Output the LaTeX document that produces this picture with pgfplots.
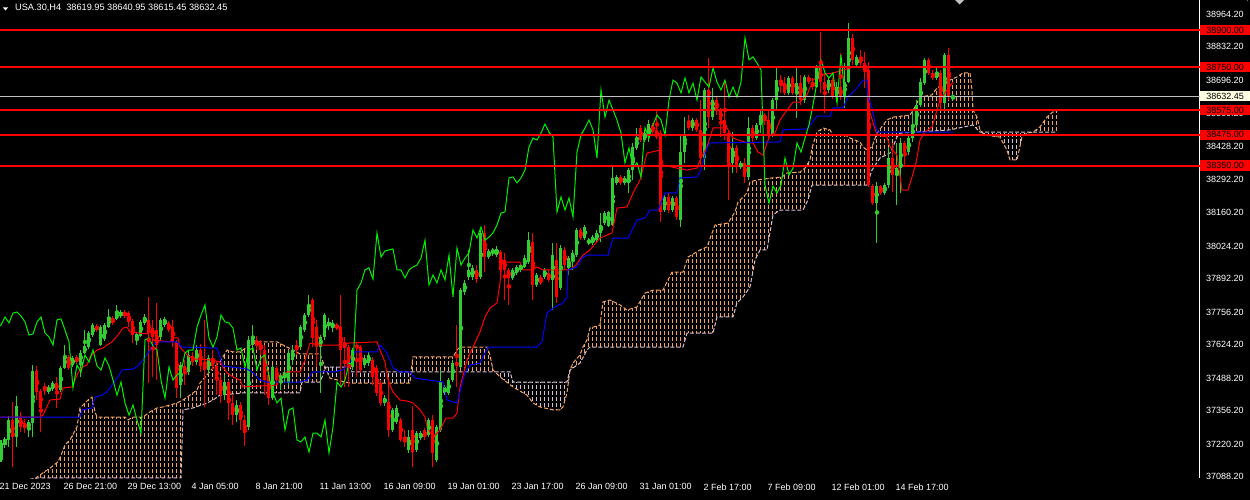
\documentclass[border=0pt]{standalone}
\usepackage{fontspec}
\setmainfont{Liberation Sans}
\usepackage{pgfplots}
\pgfplotsset{compat=1.18}
\usepackage{pgfplotstable}
\usepgfplotslibrary{fillbetween}

\definecolor{bull}{RGB}{50,205,50}
\definecolor{bear}{RGB}{255,0,0}
\definecolor{chikou}{RGB}{0,240,0}
\definecolor{sandy}{RGB}{244,164,96}
\definecolor{thist}{RGB}{216,191,216}
\definecolor{silv}{RGB}{192,192,192}
\definecolor{cream}{RGB}{255,255,225}
\newcommand{\tkfont}{\fontsize{9}{10}\selectfont}

% H4 bars: index, open, high, low, close
\pgfplotstableread{
i o h l c
0 37156 37237 37148 37225
1 37217 37249 37204 37241
2 37237 37334 37209 37318
3 37318 37391 37127 37249
4 37249 37415 37209 37375
5 37326 37351 37269 37290
6 37306 37322 37265 37286
7 37286 37318 37249 37310
8 37306 37541 37249 37517
9 37517 37537 37399 37432
10 37436 37444 37269 37367
11 37456 37468 37419 37440
12 37432 37460 37424 37452
13 37444 37476 37436 37468
14 37468 37493 37367 37440
15 37440 37537 37432 37529
16 37529 37622 37525 37578
17 37574 37582 37521 37529
18 37541 37578 37533 37570
19 37574 37582 37545 37553
20 37553 37602 37493 37590
21 37590 37683 37586 37618
22 37614 37679 37606 37671
23 37663 37712 37655 37703
24 37699 37708 37675 37683
25 37622 37703 37618 37695
26 37647 37712 37639 37703
27 37695 37768 37691 37736
28 37732 37740 37703 37712
29 37728 37785 37724 37752
30 37740 37764 37732 37756
31 37756 37764 37732 37740
32 37752 37760 37695 37716
33 37720 37728 37630 37663
34 37647 37671 37622 37667
35 37659 37724 37655 37716
36 37712 37748 37703 37736
37 37724 37817 37468 37671
38 37691 37724 37493 37655
39 37683 37793 37480 37622
40 37655 37732 37643 37724
41 37703 37736 37695 37728
42 37712 37720 37675 37683
43 37695 37724 37614 37635
44 37635 37643 37407 37448
45 37460 37553 37407 37541
46 37537 37561 37460 37513
47 37513 37602 37501 37582
48 37578 37594 37537 37553
49 37553 37622 37541 37602
50 37602 37626 37513 37537
51 37545 37724 37371 37521
52 37521 37582 37505 37570
53 37570 37602 37521 37537
54 37537 37553 37419 37480
55 37480 37501 37387 37419
56 37419 37501 37399 37472
57 37472 37480 37318 37387
58 37387 37419 37298 37338
59 37338 37399 37310 37379
60 37379 37391 37277 37318
61 37318 37338 37213 37265
62 37290 37659 37277 37643
63 37622 37703 37602 37651
64 37643 37659 37602 37618
65 37630 37643 37582 37602
66 37602 37622 37419 37480
67 37501 37521 37379 37407
68 37407 37541 37399 37533
69 37529 37537 37460 37480
70 37480 37509 37440 37501
71 37488 37521 37472 37513
72 37468 37602 37460 37590
73 37561 37622 37541 37602
74 37622 37643 37582 37602
75 37614 37703 37602 37695
76 37683 37752 37675 37744
77 37744 37825 37736 37785
78 37805 37813 37614 37651
79 37695 37724 37533 37614
80 37614 37663 37428 37655
81 37655 37752 37643 37744
82 37699 37732 37683 37716
83 37691 37724 37675 37712
84 37703 37712 37683 37691
85 37695 37825 37452 37602
86 37635 37655 37452 37610
87 37614 37622 37452 37533
88 37533 37610 37521 37602
89 37622 37630 37493 37610
90 37614 37622 37509 37521
91 37541 37582 37529 37570
92 37549 37594 37537 37582
93 37561 37574 37460 37493
94 37529 37541 37415 37428
95 37468 37480 37375 37387
96 37387 37419 37375 37407
97 37391 37493 37249 37277
98 37277 37367 37269 37359
99 37310 37379 37302 37367
100 37318 37326 37229 37237
101 37241 37277 37209 37229
102 37196 37277 37184 37249
103 37277 37375 37127 37188
104 37196 37273 37188 37265
105 37245 37273 37237 37265
106 37277 37286 37237 37249
107 37257 37326 37249 37318
108 37318 37338 37127 37184
109 37156 37298 37148 37290
110 37277 37521 37269 37472
111 37428 37460 37419 37452
112 37428 37488 37419 37480
113 37480 37561 37472 37549
114 37549 37703 37452 37541
115 37533 37854 37529 37845
116 37837 37886 37825 37874
117 37898 38008 37886 37927
118 37898 37947 37886 37935
119 37927 37947 37874 37890
120 37898 38089 37890 38077
121 38077 38109 37918 37979
122 37979 38012 37971 38004
123 37996 38016 37983 38008
124 37987 38024 37979 38012
125 38000 38008 37906 37927
126 37967 37996 37805 37927
127 37927 37935 37785 37894
128 37894 37935 37886 37927
129 37914 37947 37906 37939
130 37927 37955 37918 37947
131 37939 37987 37935 37975
132 37959 38081 37951 38048
133 38040 38077 37805 37866
134 37866 37914 37858 37906
135 37898 37906 37866 37874
136 37898 37935 37890 37927
137 37914 37927 37878 37886
138 37886 38036 37764 37987
139 37967 38036 37793 37817
140 37854 38028 37845 38016
141 38008 38020 37927 37947
142 37935 37983 37906 37975
143 37967 38008 37927 37996
144 37987 38097 37979 38089
145 38089 38097 38048 38056
146 38056 38109 38048 38101
147 38036 38056 38028 38048
148 38036 38069 38028 38060
149 38048 38089 38040 38077
150 38077 38158 38040 38109
151 38117 38166 38109 38158
152 38105 38166 38101 38162
153 38109 38344 38105 38300
154 38280 38312 38271 38304
155 38304 38312 38271 38280
156 38280 38308 38271 38300
157 38280 38340 38239 38332
158 38332 38442 38292 38426
159 38422 38503 38413 38462
160 38503 38515 38446 38454
161 38454 38495 38446 38482
162 38474 38535 38446 38519
163 38515 38523 38478 38486
164 38495 38576 38458 38466
165 38482 38495 38121 38162
166 38170 38231 38162 38223
167 38223 38239 38158 38170
168 38170 38227 38162 38219
169 38219 38227 38129 38142
170 38129 38474 38101 38405
171 38405 38547 38361 38474
172 38527 38555 38495 38503
173 38503 38543 38491 38535
174 38535 38543 38486 38495
175 38495 38616 38344 38381
176 38381 38665 38332 38657
177 38657 38787 38503 38547
178 38547 38665 38535 38616
179 38616 38628 38555 38576
180 38576 38584 38466 38535
181 38535 38697 38454 38482
182 38482 38495 38211 38361
183 38361 38486 38320 38422
184 38422 38434 38320 38344
185 38344 38369 38336 38361
186 38361 38381 38280 38304
187 38304 38547 38292 38503
188 38503 38515 38446 38462
189 38462 38523 38454 38515
190 38515 38576 38482 38555
191 38555 38564 38515 38535
192 38535 38576 38454 38474
193 38474 38624 38466 38616
194 38616 38750 38576 38697
195 38697 38718 38645 38685
196 38685 38710 38637 38645
197 38645 38714 38637 38706
198 38706 38714 38637 38645
199 38645 38750 38543 38685
200 38685 38718 38596 38616
201 38616 38718 38604 38710
202 38710 38718 38681 38689
203 38689 38706 38657 38669
204 38669 38758 38665 38746
205 38746 38892 38645 38689
206 38689 38726 38564 38657
207 38657 38706 38645 38697
208 38697 38706 38620 38628
209 38628 38689 38608 38669
210 38669 38807 38616 38628
211 38628 38766 38584 38689
212 38689 38929 38685 38868
213 38868 38884 38758 38779
214 38758 38799 38746 38791
215 38791 38819 38750 38766
216 38766 38811 38665 38738
217 38738 38770 38263 38271
218 38267 38276 38190 38198
219 38198 38284 38036 38267
220 38267 38271 38231 38239
221 38239 38280 38231 38271
222 38271 38426 38259 38381
223 38381 38442 38243 38312
224 38312 38442 38190 38340
225 38340 38462 38239 38442
226 38442 38450 38344 38405
227 38405 38474 38393 38462
228 38462 38576 38446 38515
229 38515 38616 38503 38596
230 38596 38706 38588 38689
231 38685 38787 38677 38779
232 38779 38787 38718 38726
233 38726 38738 38697 38706
234 38706 38750 38697 38726
235 38726 38738 38576 38604
236 38604 38807 38568 38799
237 38799 38827 38616 38628
238 38619.95 38640.95 38615.45 38632.45
}\candles

\pgfplotstableread{
x y
-0.25 37330
9.75 37330
10.5 37338
12.25 37399
14.75 37403
15.5 37448
17.75 37452
19.25 37509
20.25 37533
21.5 37541
22.25 37574
24 37602
25.5 37610
26.5 37622
27.75 37635
29.25 37663
30.5 37691
31.5 37695
32.25 37675
36.5 37667
37.25 37683
38 37643
42.25 37635
43 37651
44.25 37651
44.75 37614
46.5 37582
48 37566
53 37561
54.75 37553
56.5 37509
58 37493
59.75 37480
60.5 37452
69 37460
69.75 37493
71.5 37513
74.75 37513
76 37561
77.25 37630
79.75 37622
85.5 37622
86.5 37630
94 37635
94.75 37602
96 37553
96.75 37480
98 37432
99.75 37399
101.5 37395
103 37387
104.75 37359
106 37330
106.5 37290
108 37249
109.75 37277
111.25 37326
113 37326
114 37346
114.75 37452
116.5 37561
118 37614
119.75 37675
121 37736
122.25 37772
124 37793
124.75 37874
125.25 37959
129.75 37959
130.5 37927
133 37927
134 37939
135.5 37927
142.25 37927
143.75 37947
145.5 37987
147.25 38008
149.75 38056
152.75 38077
154 38178
156.5 38182
158 38239
159.75 38292
161.5 38401
164.75 38413
165.5 38353
169 38340
171.5 38332
174 38340
174.75 38373
176.5 38426
178 38503
181.5 38503
183 38462
186.5 38442
188 38442
189.25 38405
190.5 38393
191.5 38442
192.25 38474
193.5 38482
194.75 38535
196.5 38576
198 38608
199.75 38608
201.5 38637
203 38697
204.75 38718
208 38726
211.5 38742
213 38750
216.5 38750
217.25 38564
219 38474
221.5 38466
222.25 38426
224 38393
225.25 38251
226.75 38251
227.75 38304
228.75 38361
229.75 38454
231 38486
232.75 38507
233.5 38547
234.75 38616
236.5 38657
238 38689
}\tenkan

\pgfplotstableread{
x y
-0.25 37330
19.75 37330
20.25 37359
22.75 37367
23.5 37411
25.25 37419
26.5 37432
27.75 37460
29.25 37493
30.25 37521
33 37525
34.25 37537
35.5 37561
36.75 37590
38 37622
39 37635
44 37635
45.25 37614
54 37610
54.75 37574
55.5 37537
61.5 37525
63 37509
64.75 37480
66.5 37472
74.75 37472
76.5 37480
78 37513
83 37513
85.5 37521
87.25 37549
88.5 37594
94 37594
94.75 37622
96.5 37590
98 37529
99.75 37513
102.25 37513
103.5 37488
110.5 37472
111.5 37399
114 37387
114.75 37432
116 37509
117.25 37541
119.75 37549
121 37590
121.75 37614
134 37614
135.25 37635
136.5 37752
138 37772
140.5 37793
141.5 37817
141.75 37927
144 37939
145.25 37975
146.5 37987
151.75 37987
153 38056
156.75 38056
159 38129
161 38138
162.25 38170
164.25 38170
166 38239
169 38239
169.75 38300
174 38304
174.75 38324
176.5 38422
177.25 38442
194.75 38446
195.5 38495
201.5 38499
204 38551
207.25 38551
208 38584
210.5 38584
211.75 38628
214 38665
215.5 38697
216.5 38697
216.75 38628
217.75 38584
219 38486
238 38486
}\kijun

\pgfplotstableread{
x y
-0.25 36993
7.25 37054
9 37087
12.25 37123
14.25 37148
15.25 37184
16 37217
17.25 37237
19 37290
19.75 37367
21.75 37399
22.75 37411
23.5 37351
24 37330
31 37330
31.75 37318
33 37330
35.5 37330
37.25 37351
39 37367
40.5 37371
42.25 37379
44 37387
45.5 37399
47.25 37419
49 37440
49.75 37468
51.5 37501
53 37529
54.75 37553
56.5 37602
58 37594
59.75 37594
61.5 37614
64 37635
69 37635
71.5 37614
73 37602
74.75 37586
79.75 37586
80.5 37553
81 37533
82.25 37488
86 37472
87.25 37468
102.25 37468
102.5 37513
103 37574
113 37574
114 37602
114.75 37614
121.5 37614
122.25 37582
123 37521
123.5 37513
124.75 37493
128 37452
131.5 37419
133 37387
134.75 37371
138 37359
139.75 37359
140.5 37371
141.5 37428
142.25 37521
143 37549
144.75 37582
145.5 37614
146.5 37643
147.25 37691
149.75 37703
150.5 37797
152.25 37805
154.75 37785
156.5 37764
159 37777
161 37833
163 37845
165.5 37845
166.75 37886
167.75 37918
170.5 37918
171.75 37979
174.75 38008
176.5 38020
178.5 38109
181.75 38117
183.5 38162
184.25 38202
186.5 38239
187.25 38284
189 38292
192.75 38300
195.25 38304
196.5 38320
199.75 38324
201 38340
202.25 38373
202.75 38422
204 38486
205.5 38503
207.25 38495
208 38474
211 38474
212.25 38462
214.75 38446
215.5 38426
216.5 38413
217.75 38426
219 38482
221.5 38535
223 38547
227.25 38555
228.5 38588
229.75 38628
232.75 38637
234 38665
237.25 38697
239 38710
240.5 38726
242.25 38726
242.75 38657
243 38576
244 38547
244.75 38495
245.25 38486
246 38474
249.75 38466
251.5 38413
252.25 38373
254 38373
255.25 38466
256.5 38482
258 38486
259.75 38507
261.5 38547
263 38568
264 38572
}\spanA

\pgfplotstableread{
x y
-0.25 37054
9 37083
45 37083
45.5 37359
48 37367
51.5 37387
53 37399
54.75 37419
60.5 37428
74.75 37428
75.25 37472
79.75 37472
80.5 37501
81 37533
87.25 37533
87.75 37513
102.5 37513
123.5 37513
127.25 37513
128 37472
141.5 37472
142.25 37521
144.75 37549
146.5 37602
147.25 37614
170.5 37614
171.5 37671
178 37671
179 37736
183 37736
184 37793
185.5 37817
187.25 37858
188.5 37967
189.75 38008
191.5 38008
193 38150
194.75 38170
200.5 38170
201.75 38211
202.75 38271
216.5 38271
217.75 38332
219.75 38381
222.25 38401
223 38426
224 38466
224.75 38482
237.25 38495
243 38515
244.75 38486
245.25 38486
258 38486
264 38486
}\spanB

\begin{document}
\begin{tikzpicture}
% black margins round the plot box (the box itself gets a black axis background)
\fill[black] (1199.5pt,0pt) rectangle (1250pt,500pt);
\fill[black] (0pt,0pt) rectangle (1250pt,21.5pt);
\begin{axis}[
  at={(0pt,500pt)}, anchor=north west,
  width=1200pt, height=479pt, scale only axis,
  axis background/.style={fill=black},
  xmin=-0.25, xmax=299.75, ymin=37078.7, ymax=39022,
  axis x line=bottom, axis y line=right,
  axis line style={white, -, line width=1pt},
  tick style={white, line width=1pt}, tick align=outside, major tick length=3.5pt,
  xtick={0,16,...,224},
  xticklabels={21 Dec 2023, 26 Dec 21:00, 29 Dec 13:00, 4 Jan 05:00, 8 Jan 21:00, 11 Jan 13:00, 16 Jan 09:00, 19 Jan 01:00, 23 Jan 17:00, 26 Jan 09:00, 31 Jan 01:00, 2 Feb 17:00, 7 Feb 09:00, 12 Feb 01:00, 14 Feb 17:00},
  ytick={37088.2,37220.2,37356.2,37488.2,37624.2,37756.2,37892.2,38024.2,38160.2,38292.2,38428.2,38560.2,38696.2,38832.2,38964.2},
  yticklabels={37088.20,37220.20,37356.20,37488.20,37624.20,37756.20,37892.20,38024.20,38160.20,38292.20,38428.20,38560.20,38696.20,38832.20,38964.20},
  ticklabel style={text=white, font=\tkfont},
  xticklabel style={anchor=north west, inner sep=0pt, xshift=-1.5pt, yshift=-1pt},
  yticklabel style={anchor=west, inner sep=0pt, xshift=2.5pt},
]
% Ichimoku cloud (Senkou spans, shifted 26 bars forward)
\addplot[draw=none, forget plot, name path=A] table[x=x, y=y] {\spanA};
\addplot[draw=none, forget plot, name path=B] table[x=x, y=y] {\spanB};
\addplot[draw=none, fill=sandy] fill between[of=A and B, soft clip={(-1,36900) rectangle (81,39100)}];
\addplot[draw=none, fill=thist] fill between[of=A and B, soft clip={(81,36900) rectangle (102.5,39100)}];
\addplot[draw=none, fill=sandy] fill between[of=A and B, soft clip={(102.5,36900) rectangle (123.5,39100)}];
\addplot[draw=none, fill=thist] fill between[of=A and B, soft clip={(123.5,36900) rectangle (142.25,39100)}];
\addplot[draw=none, fill=sandy] fill between[of=A and B, soft clip={(142.25,36900) rectangle (245.25,39100)}];
\addplot[draw=none, fill=thist] fill between[of=A and B, soft clip={(245.25,36900) rectangle (258,39100)}];
\addplot[draw=none, fill=sandy] fill between[of=A and B, soft clip={(258,36900) rectangle (265,39100)}];
% cut the filled cloud into the dotted per-bar histogram of MT4
\pgfplotsinvokeforeach{-1,...,265}{
  \draw[black, line width=3pt] (axis cs:#1.5,36900) -- (axis cs:#1.5,39100);
  \draw[black, line width=1.4pt, dash pattern=on 2pt off 4pt] (axis cs:#1,36900) -- (axis cs:#1,39100);
}
\addplot[sandy, line width=1pt, dash pattern=on 4pt off 2pt] table[x=x, y=y] {\spanA};
\addplot[thist, line width=1pt, dash pattern=on 4pt off 2pt] table[x=x, y=y] {\spanB};
% candles: wicks and bodies
\addplot[only marks, mark=none, bull, error bars/.cd, y dir=both, y explicit, error mark=none, error bar style={line width=1pt, bull}]
  table[x=i, y expr={\thisrow{c}>=\thisrow{o} ? (\thisrow{h}+\thisrow{l})/2 : nan}, y error expr={(\thisrow{h}-\thisrow{l})/2}] {\candles};
\addplot[only marks, mark=none, bear, error bars/.cd, y dir=both, y explicit, error mark=none, error bar style={line width=1pt, bear}]
  table[x=i, y expr={\thisrow{c}<\thisrow{o} ? (\thisrow{h}+\thisrow{l})/2 : nan}, y error expr={(\thisrow{h}-\thisrow{l})/2}] {\candles};
\addplot[only marks, mark=none, bull, error bars/.cd, y dir=both, y explicit, error mark=none, error bar style={line width=3pt, bull}]
  table[x=i, y expr={\thisrow{c}>=\thisrow{o} ? (\thisrow{o}+\thisrow{c})/2 : nan}, y error expr={max(abs(\thisrow{c}-\thisrow{o})/2,2)}] {\candles};
\addplot[only marks, mark=none, bear, error bars/.cd, y dir=both, y explicit, error mark=none, error bar style={line width=3pt, bear}]
  table[x=i, y expr={\thisrow{c}<\thisrow{o} ? (\thisrow{o}+\thisrow{c})/2 : nan}, y error expr={max(abs(\thisrow{c}-\thisrow{o})/2,2)}] {\candles};
% Tenkan, Kijun, Chikou
\addplot[bear, line width=1pt] table[x=x, y=y] {\tenkan};
\addplot[blue, line width=1pt] table[x=x, y=y] {\kijun};
\addplot[chikou, line width=1pt] table[x expr=\thisrow{i}-26, y=c] {\candles};
% levels and bid line
\addplot[silv, line width=0.8pt] coordinates {(-1,38632.45) (301,38632.45)};
\addplot[bear, line width=2pt] coordinates {(-1,38900) (301,38900)};
\addplot[bear, line width=2pt] coordinates {(-1,38750) (301,38750)};
\addplot[bear, line width=2pt] coordinates {(-1,38575) (301,38575)};
\addplot[bear, line width=2pt] coordinates {(-1,38475) (301,38475)};
\addplot[bear, line width=2pt] coordinates {(-1,38350) (301,38350)};
\coordinate (L0) at (axis cs:299.75,38632.45);
\coordinate (L1) at (axis cs:299.75,38900);
\coordinate (L2) at (axis cs:299.75,38750);
\coordinate (L3) at (axis cs:299.75,38575);
\coordinate (L4) at (axis cs:299.75,38475);
\coordinate (L5) at (axis cs:299.75,38350);
\end{axis}
\foreach \p/\lab in {L1/38900.00, L2/38750.00, L3/38575.00, L4/38475.00, L5/38350.00}{
  \node[fill=bear, text=black, font=\tkfont, inner sep=0pt, minimum width=50pt, minimum height=10.5pt, anchor=west] at (\p) {\lab};
}
\node[fill=cream, text=black, font=\tkfont, inner sep=0pt, minimum width=50pt, minimum height=10.5pt, anchor=west] at (L0) {38632.45};
% title
\fill[white] (3pt,492.5pt) -- (8pt,492.5pt) -- (5.5pt,489.5pt) -- cycle;
\node[anchor=west, text=white, font=\fontsize{9.2}{10}\selectfont, inner sep=0pt] at (15pt,492.5pt) {USA.30,H4\ \ 38619.95 38640.95 38615.45 38632.45};
\fill[silv] (955pt,500pt) -- (964pt,500pt) -- (959.5pt,495.5pt) -- cycle;
\pgfresetboundingbox
\path[use as bounding box] (0pt,0pt) rectangle (1250pt,500pt);
\end{tikzpicture}
\end{document}
